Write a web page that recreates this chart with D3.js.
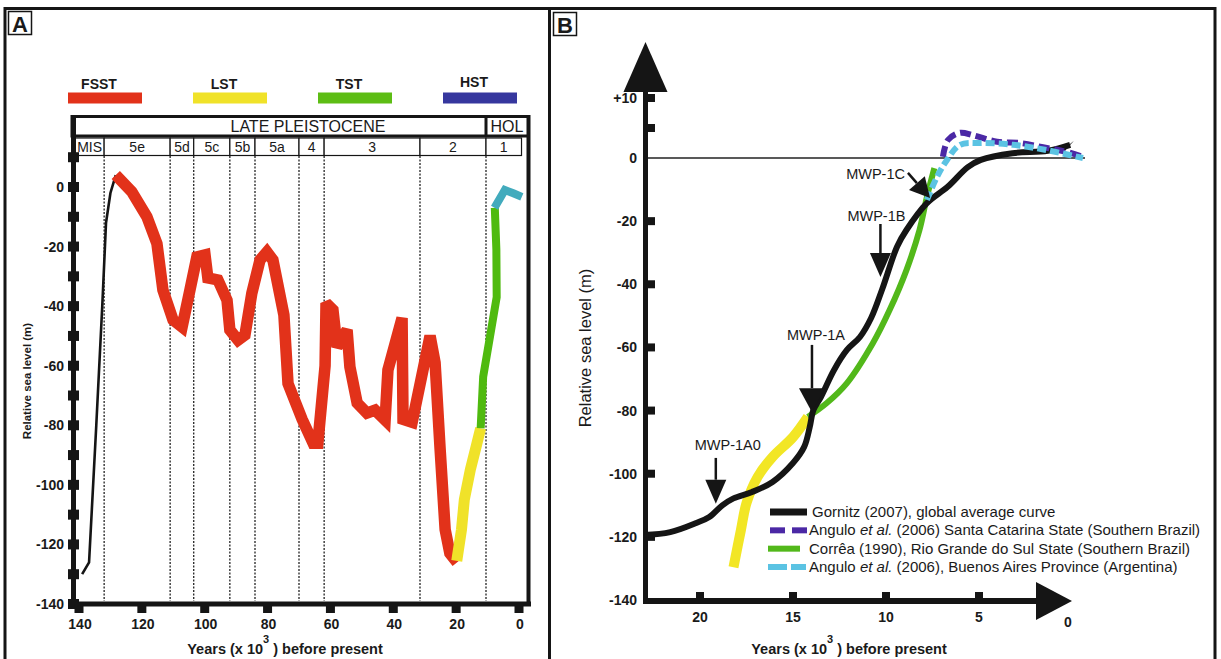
<!DOCTYPE html>
<html lang="en">
<head>
<meta charset="utf-8">
<title>Relative sea level curves</title>
<script src="https://cdn.jsdelivr.net/npm/d3@7"></script>
<style>
body { margin: 0; background: #fff; }
text { font-family: "Liberation Sans", Arial, sans-serif; fill: #1a1a1a; }
</style>
</head>
<body>
<script>

// ---------- panel A data (kyr BP, metres)
var tracts = ["FSST", "LST", "TST", "HST"];
var tractColors = ["#e2321a", "#f0e229", "#5dbd14", "#36379e"];
var misLabels = ["MIS", "5e", "5d", "5c", "5b", "5a", "4", "3", "2", "1"];
var misEdges = [141.5, 132, 111, 103.5, 92, 84, 70, 62, 31.5, 10.5, -0.8];
var aYTicks = [10, 0, -10, -20, -30, -40, -50, -60, -70, -80, -90, -100, -110, -120, -130, -140];
var aYLabels = [0, -20, -40, -60, -80, -100, -120, -140];
var aXLabels = [140, 120, 100, 80, 60, 40, 20, 0];

var aBlack = [[139, -130], [136.8, -126], [134.5, -80], [132.6, -40], [131.4, -12], [130, -2], [128.3, 4]];
var aFSST = [[128.3, 4], [123.2, -1.6], [118.4, -10], [115.2, -19], [113.3, -34.6], [110.1, -44.6], [107.2, -47],
  [104.7, -34.6], [102.5, -23.5], [99.9, -22.8], [99, -30.5], [95.8, -31.2], [92.9, -38], [92, -48], [89.4, -51.4],
  [87.2, -49.7], [85, -35.6], [82.4, -24.5], [80.2, -21.8], [78.3, -24.5], [74.8, -43], [73.5, -66], [69, -78],
  [65.5, -86], [64, -86], [61.7, -60], [61.4, -39], [59.2, -41.3], [57.9, -53.7], [54.7, -48], [53.8, -60.4],
  [51.5, -72.5], [48.4, -75.9], [45.8, -74.9], [42.6, -78.2], [41.7, -61.4], [37.2, -44], [36.9, -78], [34, -79],
  [28.3, -50], [26.7, -59], [25.1, -88], [23.5, -115], [22, -123], [19.7, -126]];
var aLST = [[19.8, -125.5], [18.3, -115], [17.4, -105], [15.5, -95], [13.6, -87], [12.2, -81]];
var aTST = [[12.2, -81], [11.4, -63.7], [7.1, -37], [7.2, -21], [7.7, -7]];
var aHST = [[7.8, -7], [4.5, -1], [1.8, -2.1], [-0.9, -3.3]];

// ---------- panel B data (kyr BP, metres)
var bYTicks = [10, 5, -20, -40, -60, -80, -100, -120];
var bYLabels = [10, 0, -20, -40, -60, -80, -100, -120, -140];
var bXTicks = [20, 15, 10, 5];
var bXLabels = [20, 15, 10, 5, 0];

var gornitz = [[23, -119.4], [21.6, -118.5], [20.2, -115.6], [19.5, -113.7], [18.8, -110], [18.2, -107.8],
  [17.2, -105.8], [16.1, -102.6], [15, -96.6], [14.4, -91.5], [14.1, -85.2], [13.9, -79.8], [13.5, -75.7],
  [12.8, -67.2], [12.1, -60.8], [11.4, -56.7], [10.8, -50.7], [10.2, -41.5], [9.4, -28], [8.9, -22.8],
  [7.8, -14.3], [6.7, -9.2], [5.6, -2.9], [4.9, -0.6], [3.2, 0.8], [1.3, 1.2], [0.1, 2.2]];
var santaCatarina = [[6.94, 0.2], [6.67, 3], [6.02, 4.2], [5.32, 3.8], [4.03, 2.7], [2.8, 2.5], [1.56, 1.8],
  [0.27, 1], [-0.59, 0.2]];
var buenosAires = [[7.8, -13.3], [7.26, -6], [6.72, -0.6], [6.02, 2.2], [4.95, 2.5], [3.17, 2.2], [1.34, 1.3],
  [-0.59, 0]];
var correaTST = [[14.2, -82], [13.2, -77.7], [12.1, -71.3], [10.7, -58.6], [9.8, -48.1], [8.9, -35.5],
  [8.2, -22.8], [7.8, -12.3], [7.4, -3.2]];
var correaLST = [[18.2, -129.6], [17.8, -117.8], [17.5, -109.3], [16.9, -101], [16.1, -94.7], [15, -88.4],
  [14.2, -82]];
var mwp = [
  {name: "MWP-1A0", from: [19.15, -95], to: [19.15, -109.5]},
  {name: "MWP-1A", from: [13.98, -59.2], to: [13.98, -80.5]},
  {name: "MWP-1B", from: [10.3, -20.9], to: [10.3, -37.7]},
  {name: "MWP-1C", from: [8.82, -4.7], to: [7.63, -12.7]}
];
var bLegend = ["Gornitz (2007), global average curve",
  "Angulo |et al.| (2006) Santa Catarina State (Southern Brazil)",
  "Corrêa (1990), Rio Grande do Sul State (Southern Brazil)",
  "Angulo |et al.| (2006), Buenos Aires Province (Argentina)"];

var w = 1221, h = 659;
var ink = "#151515";

var svg = d3.select("body").append("svg")
  .attr("width", w)
  .attr("height", h);
svg.append("rect").attr("width", w).attr("height", h).attr("fill", "#fff");

// outer frame and divider
svg.append("path")
  .attr("d", "M5,662V8.5H1215V662")
  .attr("fill", "none").attr("stroke", ink).attr("stroke-width", 3);
svg.append("line")
  .attr("x1", 549.5).attr("x2", 549.5).attr("y1", 8).attr("y2", 662)
  .attr("stroke", ink).attr("stroke-width", 3);

// panel letters
function panelLetter(x, y, s) {
  svg.append("rect").attr("x", x).attr("y", y).attr("width", 23).attr("height", 23)
    .attr("fill", "#fff").attr("stroke", ink).attr("stroke-width", 1.5);
  svg.append("text").attr("x", x + 11.5).attr("y", y + 20).attr("text-anchor", "middle")
    .attr("font-size", 22).attr("font-weight", "bold").text(s);
}
panelLetter(8.5, 11.5, "A");
panelLetter(553.5, 12.5, "B");

// ================= PANEL A =================
var xA = d3.scaleLinear().domain([140, 0]).range([79, 519]);
var yA = d3.scaleLinear().domain([0, -140]).range([187, 604]);
var gA = svg.append("g");

// systems tract legend
var tractX = d3.scalePoint().domain(tracts).range([68, 443]);
tracts.forEach(function(t, i) {
  gA.append("rect")
    .attr("x", tractX(t)).attr("y", 92.5).attr("width", 74).attr("height", 11)
    .attr("fill", tractColors[i]);
  gA.append("text")
    .attr("x", tractX(t) + 31).attr("y", i == 3 ? 87 : 89)
    .attr("text-anchor", "middle").attr("font-size", 14).attr("font-weight", "bold")
    .text(t);
});

// header: epoch row
gA.append("rect").attr("x", 72).attr("y", 116.5).attr("width", 456.5).attr("height", 19.5)
  .attr("fill", "none").attr("stroke", ink).attr("stroke-width", 3);
gA.append("line").attr("x1", xA(10.5)).attr("x2", xA(10.5)).attr("y1", 116).attr("y2", 136)
  .attr("stroke", ink).attr("stroke-width", 3);
gA.append("text").attr("x", 308).attr("y", 132).attr("text-anchor", "middle")
  .attr("font-size", 16).text("LATE PLEISTOCENE");
gA.append("text").attr("x", (xA(10.5) + 528) / 2).attr("y", 132).attr("text-anchor", "middle")
  .attr("font-size", 16).text("HOL");

// header: MIS row
misLabels.forEach(function(m, i) {
  var x0 = i == 0 ? 75 : xA(misEdges[i]);
  var x1 = xA(misEdges[i + 1]);
  gA.append("rect").attr("x", x0).attr("y", 138).attr("width", x1 - x0).attr("height", 17.5)
    .attr("fill", "#fff").attr("stroke", ink).attr("stroke-width", 1.2);
  gA.append("text").attr("x", (x0 + x1) / 2).attr("y", 152).attr("text-anchor", "middle")
    .attr("font-size", 14).text(m);
});

// MIS boundaries
misEdges.slice(1, -1).forEach(function(k) {
  gA.append("line").attr("x1", xA(k)).attr("x2", xA(k)).attr("y1", 156).attr("y2", 601)
    .attr("stroke", "#222").attr("stroke-width", 1.3).attr("stroke-dasharray", "2,1.5");
});

// axes
gA.append("line").attr("x1", 73.5).attr("x2", 73.5).attr("y1", 115).attr("y2", 606)
  .attr("stroke", ink).attr("stroke-width", 5);
gA.append("line").attr("x1", 528.5).attr("x2", 528.5).attr("y1", 115).attr("y2", 606)
  .attr("stroke", ink).attr("stroke-width", 4);
gA.append("line").attr("x1", 71).attr("x2", 531).attr("y1", 604).attr("y2", 604)
  .attr("stroke", ink).attr("stroke-width", 5);

gA.selectAll(".ytA").data(aYTicks).enter().append("rect")
  .attr("x", 68).attr("y", function(d) { return yA(d) - 5; })
  .attr("width", 11).attr("height", 10).attr("fill", ink);
gA.selectAll(".ylA").data(aYLabels).enter().append("text")
  .attr("x", 64).attr("y", function(d) { return yA(d) + 5; })
  .attr("text-anchor", "end").attr("font-size", 14).attr("font-weight", "bold")
  .text(function(d) { return d; });

gA.selectAll(".xtA").data(aXLabels).enter().append("rect")
  .attr("x", function(d) { return xA(d) - 4.5; }).attr("y", 604)
  .attr("width", 9).attr("height", 9).attr("fill", ink);
gA.selectAll(".xlA").data(aXLabels).enter().append("text")
  .attr("x", function(d) { return xA(d) + 1; }).attr("y", 629)
  .attr("text-anchor", "middle").attr("font-size", 14).attr("font-weight", "bold")
  .text(function(d) { return d; });

// axis titles
function yearsTitle(g, cx) {
  var t = g.append("text").attr("x", cx).attr("y", 654).attr("text-anchor", "middle")
    .attr("font-size", 14.5).attr("font-weight", "bold");
  t.append("tspan").text("Years (x 10");
  t.append("tspan").attr("dy", -11).attr("font-size", 11).text("3");
  t.append("tspan").attr("dy", 11).text(" ) before present");
}
yearsTitle(gA, 285);
gA.append("text")
  .attr("transform", "translate(31,381) rotate(-90)")
  .attr("text-anchor", "middle").attr("font-size", 11.5).attr("font-weight", "bold")
  .text("Relative sea level (m)");

// curves
var lineA = d3.line()
  .x(function(d) { return xA(d[0]); })
  .y(function(d) { return yA(d[1]); });

function drawA(data, color, width) {
  gA.append("path").datum(data).attr("d", lineA)
    .attr("fill", "none").attr("stroke", color).attr("stroke-width", width)
    .attr("stroke-linejoin", "miter").attr("stroke-miterlimit", 2.5);
}
drawA(aBlack, ink, 2.6);
drawA(aFSST, "#e2321a", 11.5);
drawA(aLST, "#f0e229", 11);
drawA(aTST, "#4fba0f", 8);
drawA(aHST, "#42abbd", 8);

// ================= PANEL B =================
var xB = d3.scaleLinear().domain([20, 0]).range([700, 1072]);
var yB = d3.scaleLinear().domain([10, 0, -140]).range([98, 158, 600]);
var gB = svg.append("g");

// zero line
gB.append("line").attr("x1", 646).attr("x2", xB(-0.7)).attr("y1", yB(0)).attr("y2", yB(0))
  .attr("stroke", "#222").attr("stroke-width", 1.5);

// axes with arrows
gB.append("line").attr("x1", 645.5).attr("x2", 645.5).attr("y1", 85).attr("y2", 604)
  .attr("stroke", ink).attr("stroke-width", 5);
gB.append("path").attr("d", "M623.5,92L645.5,42L667.5,92Z").attr("fill", ink);
gB.append("line").attr("x1", 643).attr("x2", 1040).attr("y1", 601).attr("y2", 601)
  .attr("stroke", ink).attr("stroke-width", 6);
gB.append("path").attr("d", "M1036,582L1072,601L1036,620Z").attr("fill", ink);

gB.selectAll(".ytB").data(bYTicks).enter().append("rect")
  .attr("x", 646).attr("y", function(d) { return yB(d) - 4; })
  .attr("width", 9).attr("height", 8).attr("fill", ink);
gB.selectAll(".ylB").data(bYLabels).enter().append("text")
  .attr("x", 637).attr("y", function(d) { return yB(d) + 5; })
  .attr("text-anchor", "end").attr("font-size", 14).attr("font-weight", "bold")
  .text(function(d) { return d > 0 ? "+" + d : d; });

gB.selectAll(".xtB").data(bXTicks).enter().append("rect")
  .attr("x", function(d) { return xB(d) - 4; }).attr("y", 592)
  .attr("width", 8).attr("height", 7).attr("fill", ink);
gB.selectAll(".xlB").data(bXLabels).enter().append("text")
  .attr("x", function(d) { return xB(d) - (d == 0 ? 4 : 0); })
  .attr("y", function(d) { return d == 0 ? 627 : 622; })
  .attr("text-anchor", "middle").attr("font-size", 14).attr("font-weight", "bold")
  .text(function(d) { return d; });

yearsTitle(gB, 849);
gB.append("text")
  .attr("transform", "translate(591,348) rotate(-90)")
  .attr("text-anchor", "middle").attr("font-size", 16.5)
  .text("Relative sea level (m)");

// curves
var lineB = d3.line()
  .x(function(d) { return xB(d[0]); })
  .y(function(d) { return yB(d[1]); })
  .curve(d3.curveCatmullRom.alpha(0.5));

function drawB(data, color, width, dash) {
  gB.append("path").datum(data).attr("d", lineB)
    .attr("fill", "none").attr("stroke", color).attr("stroke-width", width)
    .attr("stroke-dasharray", dash || null);
}
drawB(correaLST, "#f2e625", 10);
drawB(correaTST, "#52b81a", 6);
drawB(gornitz, ink, 6);
drawB(santaCatarina, "#4b28a5", 6, "11,5");
drawB(buenosAires, "#5bc3e3", 6, "9,4");

// pointed end of the global curve
var gEnd = gornitz[gornitz.length - 1], gPrev = gornitz[gornitz.length - 2];
var ea = Math.atan2(yB(gEnd[1]) - yB(gPrev[1]), xB(gEnd[0]) - xB(gPrev[0]));
var ex = xB(gEnd[0]), ey = yB(gEnd[1]);
gB.append("path")
  .attr("d", "M" + (ex - 3 * Math.sin(ea) * -1 - 6 * Math.cos(ea)) + "," + (ey - 6 * Math.sin(ea) - 3 * Math.cos(ea) * -1) +
    "L" + (ex + 4 * Math.cos(ea)) + "," + (ey + 4 * Math.sin(ea) - 3) +
    "L" + (ex - 6 * Math.cos(ea) - 4 * Math.sin(ea)) + "," + (ey - 6 * Math.sin(ea) + 4 * Math.cos(ea)) + "Z")
  .attr("fill", ink);

// meltwater pulse arrows
var mwpText = [[12, -8], [4, -5], [-4, -3], [-3, 6]];
mwp.forEach(function(m, i) {
  var x1 = xB(m.from[0]), y1 = yB(m.from[1]);
  var x2 = xB(m.to[0]), y2 = yB(m.to[1]);
  var ang = Math.atan2(y2 - y1, x2 - x1);
  var hl = i == 3 ? 20 : 24, hw = i == 1 ? 13 : 10.5;
  var bx = x2 - hl * Math.cos(ang), by = y2 - hl * Math.sin(ang);
  var nx = -Math.sin(ang), ny = Math.cos(ang);
  gB.append("line").attr("x1", x1).attr("y1", y1).attr("x2", bx).attr("y2", by)
    .attr("stroke", ink).attr("stroke-width", 2.5);
  gB.append("path")
    .attr("d", "M" + (bx + nx * hw) + "," + (by + ny * hw) + "L" + x2 + "," + y2 +
      "L" + (bx - nx * hw) + "," + (by - ny * hw) + "Z")
    .attr("fill", ink);
  gB.append("text")
    .attr("x", x1 + mwpText[i][0]).attr("y", y1 + mwpText[i][1])
    .attr("text-anchor", i == 3 ? "end" : "middle")
    .attr("font-size", 14.5).attr("fill", "#2a2a2a")
    .text(m.name);
});

// legend
var legY = d3.scalePoint().domain(d3.range(bLegend.length)).range([512, 567]);
var swatch = [
  {c: ink, segs: [[770, 807]], w: 7},
  {c: "#4b28a5", segs: [[770, 785], [792, 807]], w: 6},
  {c: "#52b81a", segs: [[768, 800]], w: 6},
  {c: "#5bc3e3", segs: [[768, 787], [791, 806]], w: 6}
];
bLegend.forEach(function(s, i) {
  var y = legY(i);
  swatch[i].segs.forEach(function(sg) {
    gB.append("line").attr("x1", sg[0]).attr("x2", sg[1]).attr("y1", y).attr("y2", y)
      .attr("stroke", swatch[i].c).attr("stroke-width", swatch[i].w);
  });
  var t = gB.append("text").attr("x", i == 0 ? 812 : 809).attr("y", y + 5)
    .attr("font-size", 15).attr("fill", "#2a2a2a");
  s.split("|").forEach(function(part, j) {
    t.append("tspan").attr("font-style", j == 1 ? "italic" : null).text(part);
  });
});

</script>
</body>
</html>
